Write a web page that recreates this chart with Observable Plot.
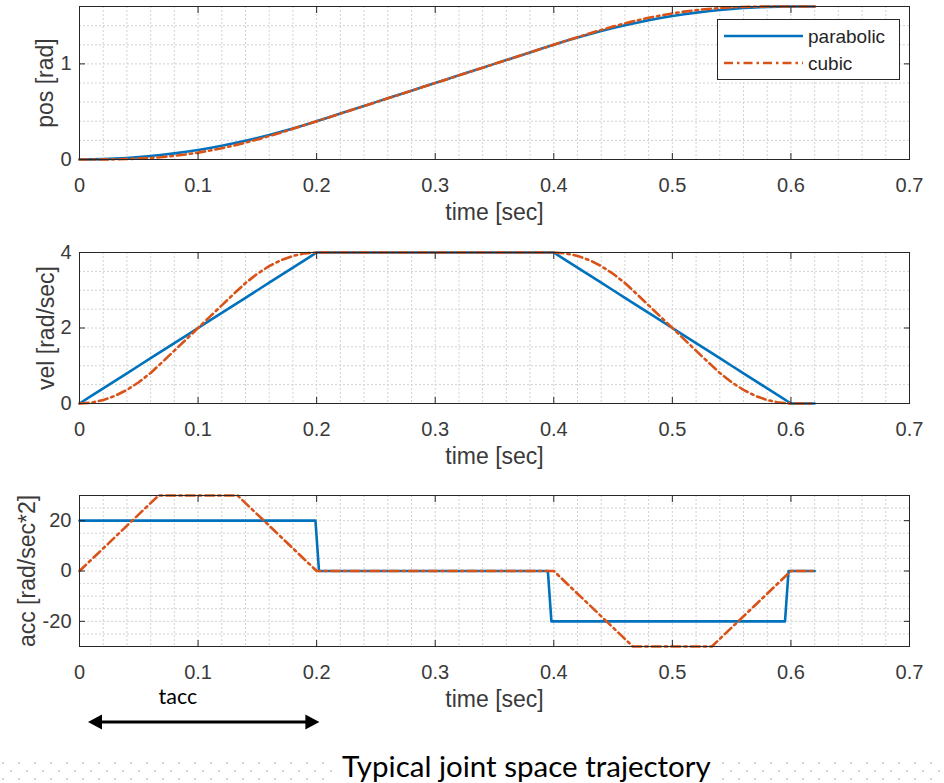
<!DOCTYPE html>
<html>
<head>
<meta charset="utf-8">
<script src="https://cdn.jsdelivr.net/npm/d3@7"></script>
<script src="https://cdn.jsdelivr.net/npm/@observablehq/plot@0.6"></script>
<style>
  body { margin: 0; background: #fff; }
  #wrap { position: relative; width: 944px; height: 783px; overflow: hidden; background: #fff; font-family: "Liberation Sans", Arial, sans-serif; }
  .panel { position: absolute; left: 0; }
  #dots { position: absolute; left: 0; top: 761px; width: 944px; height: 22px;
    background-image: radial-gradient(circle at 3px 2px, #d4d4d4 1px, transparent 1.6px),
                      radial-gradient(circle at 11px 10px, #d4d4d4 1px, transparent 1.6px);
    background-size: 16px 16px; }
  #title { position: absolute; left: 336px; top: 749px; padding: 0 6px; background: #fff;
    font-family: Lato, "Open Sans", sans-serif; font-size: 29.5px; line-height: 34px; color: #000; white-space: nowrap; }
  #legend { position: absolute; left: 717px; top: 19px; width: 181px; height: 59px; border: 1px solid #262626; background: #fff; }
</style>
</head>
<body>
<div id="wrap">
  <div id="p1" class="panel" style="top:0px"></div>
  <div id="p2" class="panel" style="top:230px"></div>
  <div id="p3" class="panel" style="top:475px"></div>
  <div id="legend"></div>
  <div id="dots"></div>
  <div id="title">Typical joint space trajectory</div>
</div>
<script>
// ---------------- data ----------------
const seriesNames = ["parabolic", "cubic"];

const time = [0,0.01,0.02,0.03,0.04,0.05,0.06,0.07,0.08,0.09,0.1,
  0.11,0.12,0.13,0.14,0.15,0.16,0.17,0.18,0.19,0.2,
  0.21,0.22,0.23,0.24,0.25,0.26,0.27,0.28,0.29,0.3,
  0.31,0.32,0.33,0.34,0.35,0.36,0.37,0.38,0.39,0.4,
  0.41,0.42,0.43,0.44,0.45,0.46,0.47,0.48,0.49,0.5,
  0.51,0.52,0.53,0.54,0.55,0.56,0.57,0.58,0.59,0.6,
  0.62];

const posParabolic = [0,0.001,0.004,0.009,0.016,0.025,0.036,0.049,0.064,0.081,0.1,
  0.121,0.144,0.169,0.196,0.225,0.256,0.289,0.324,0.361,0.4,
  0.44,0.48,0.52,0.56,0.6,0.64,0.68,0.72,0.76,0.8,
  0.84,0.88,0.92,0.96,1.0,1.04,1.08,1.12,1.16,1.2,
  1.239,1.276,1.311,1.344,1.375,1.404,1.431,1.456,1.479,1.5,
  1.519,1.536,1.551,1.564,1.575,1.584,1.591,1.596,1.599,1.6,
  1.6];

const posCubic = [0,0.0001,0.0006,0.002,0.0048,0.0094,0.0162,0.0257,0.0382,0.0537,0.0722,
  0.0937,0.1182,0.1457,0.1762,0.2094,0.2448,0.282,0.3206,0.3601,0.4,
  0.44,0.48,0.52,0.56,0.6,0.64,0.68,0.72,0.76,0.8,
  0.84,0.88,0.92,0.96,1.0,1.04,1.08,1.12,1.16,1.2,
  1.2399,1.2794,1.318,1.3552,1.3906,1.4238,1.4543,1.4818,1.5063,1.5278,
  1.5463,1.5618,1.5743,1.5838,1.5906,1.5952,1.598,1.5994,1.5999,1.6,
  1.6];

const velParabolic = [0,0.2,0.4,0.6,0.8,1,1.2,1.4,1.6,1.8,2,
  2.2,2.4,2.6,2.8,3,3.2,3.4,3.6,3.8,4,
  4,4,4,4,4,4,4,4,4,4,
  4,4,4,4,4,4,4,4,4,4,
  3.8,3.6,3.4,3.2,3,2.8,2.6,2.4,2.2,2,
  1.8,1.6,1.4,1.2,1,0.8,0.6,0.4,0.2,0,
  0];

const velCubic = [0,0.0225,0.09,0.2025,0.36,0.5625,0.81,1.1,1.4,1.7,2,
  2.3,2.6,2.9,3.19,3.4375,3.64,3.7975,3.91,3.9775,4,
  4,4,4,4,4,4,4,4,4,4,
  4,4,4,4,4,4,4,4,4,4,
  3.9775,3.91,3.7975,3.64,3.4375,3.19,2.9,2.6,2.3,2,
  1.7,1.4,1.1,0.81,0.5625,0.36,0.2025,0.09,0.0225,0,
  0];

const accParabolicTime = [0,0.199,0.202,0.395,0.398,0.595,0.598,0.62];
const accParabolic     = [20,20,0,0,-20,-20,0,0];
const accCubicTime     = [0,0.0667,0.1333,0.2,0.4,0.4667,0.5333,0.6,0.62];
const accCubic         = [0,30,30,0,0,-30,-30,0,0];

// ticks
const xTicks = [0,0.1,0.2,0.3,0.4,0.5,0.6,0.7];
const posTicks = [0,1];
const velTicks = [0,2,4];
const accTicks = [-20,0,20];

// annotation
const taccLabel = "tacc";
const taccArrow = [0.0076, 0.2027];
const taccLabelX = 0.083;

// ---------------- styling ----------------
const BLUE = "#0072BD", ORANGE = "#D95319";
const TXT = "#3a3a3a", AXC = "#262626", GRID = "#d2d2d2";
const FONT = "'Liberation Sans', Arial, sans-serif";
const DASH = "9,4,2.5,4";
const LW = 2.6;
const xMinor = d3.range(0, 0.7001, 0.02);

const toRows = (t, v) => t.map((d, i) => ({t: d, v: v[i]}));

function makePanel({height, marginTop, marginBottom, yDomain, yTicks, yMinorStep, yLabel, yLabelDx, blueRows, orangeRows, extra = []}) {
  const yMinor = d3.range(yDomain[0], yDomain[1] + yMinorStep * 0.01, yMinorStep);
  return Plot.plot({
    width: 944, height, marginLeft: 79, marginRight: 35, marginTop, marginBottom,
    x: {domain: [0, 0.7], label: null},
    y: {domain: yDomain, label: null},
    style: {fontFamily: FONT, fontSize: "20px", color: AXC, background: "none", overflow: "visible"},
    marks: [
      Plot.gridX(xMinor, {stroke: GRID, strokeOpacity: 1, strokeDasharray: "2,2"}),
      Plot.gridY(yMinor, {stroke: GRID, strokeOpacity: 1, strokeDasharray: "2,2"}),
      Plot.line(blueRows, {x: "t", y: "v", stroke: BLUE, strokeWidth: LW}),
      Plot.line(orangeRows, {x: "t", y: "v", stroke: ORANGE, strokeWidth: LW, strokeDasharray: DASH}),
      Plot.frame({stroke: AXC, strokeWidth: 1}),
      Plot.axisX(xTicks, {anchor: "bottom", tickSize: -6, fill: "none", stroke: AXC, label: null}),
      Plot.axisX(xTicks, {anchor: "top", tickSize: -6, fill: "none", stroke: AXC, label: null}),
      Plot.axisX(xTicks, {anchor: "bottom", tickSize: 0, tickPadding: 18, tickFormat: d => `${d}`, fill: TXT, label: null}),
      Plot.axisY(yTicks, {anchor: "left", tickSize: -6, fill: "none", stroke: AXC, label: null}),
      Plot.axisY(yTicks, {anchor: "right", tickSize: -6, fill: "none", stroke: AXC, label: null}),
      Plot.axisY(yTicks, {anchor: "left", tickSize: 0, tickPadding: 8, tickFormat: d => `${d}`, fill: TXT, label: null}),
      Plot.text(["time [sec]"], {text: d => d, frameAnchor: "bottom", dy: 53, lineAnchor: "middle", textAnchor: "middle", fontSize: 23, fill: TXT}),
      Plot.text([yLabel], {text: d => d, frameAnchor: "left", rotate: -90, dx: yLabelDx, lineAnchor: "middle", textAnchor: "middle", fontSize: 23, fill: TXT}),
      ...extra
    ]
  });
}

const p1 = makePanel({
  height: 230, marginTop: 6, marginBottom: 71,
  yDomain: [0, 1.6], yTicks: posTicks, yMinorStep: 0.2,
  yLabel: "pos [rad]", yLabelDx: -34,
  blueRows: toRows(time, posParabolic), orangeRows: toRows(time, posCubic)
});
document.getElementById("p1").appendChild(p1);

const p2 = makePanel({
  height: 245, marginTop: 22, marginBottom: 72,
  yDomain: [0, 4], yTicks: velTicks, yMinorStep: 0.5,
  yLabel: "vel [rad/sec]", yLabelDx: -33,
  blueRows: toRows(time, velParabolic), orangeRows: toRows(time, velCubic)
});
document.getElementById("p2").appendChild(p2);

const P3H = 260, P3MB = 89;
const p3 = makePanel({
  height: P3H, marginTop: 20, marginBottom: P3MB,
  yDomain: [-30, 30], yTicks: accTicks, yMinorStep: 5,
  yLabel: "acc [rad/sec*2]", yLabelDx: -52,
  blueRows: toRows(accParabolicTime, accParabolic), orangeRows: toRows(accCubicTime, accCubic),
  extra: [
    Plot.text([taccLabel], {text: d => d, x: taccLabelX, frameAnchor: "bottom", dy: 51, lineAnchor: "middle",
      fontFamily: "Lato, 'Open Sans', sans-serif", fontSize: 21.5, fill: "#000"})
  ]
});
document.getElementById("p3").appendChild(p3);

// double-headed arrow below the acc panel, placed with the panel's x scale
{
  const sx = p3.scale("x");
  const xa = sx.apply(taccArrow[0]), xb = sx.apply(taccArrow[1]);
  const y = (P3H - P3MB) + 76;
  const head = 14, half = 7.5;
  const g = d3.select(p3).append("g").attr("fill", "#000").attr("stroke", "none");
  g.append("line").attr("x1", xa + head - 2).attr("x2", xb - head + 2).attr("y1", y).attr("y2", y)
    .attr("stroke", "#000").attr("stroke-width", 3);
  g.append("polygon").attr("points", `${xa},${y} ${xa + head},${y - half} ${xa + head},${y + half}`);
  g.append("polygon").attr("points", `${xb},${y} ${xb - head},${y - half} ${xb - head},${y + half}`);
}

// legend
{
  const svg = d3.select("#legend").append("svg").attr("width", 181).attr("height", 59);
  const rows = [
    {name: seriesNames[0], color: BLUE, dash: null, y: 16},
    {name: seriesNames[1], color: ORANGE, dash: DASH, y: 43}
  ];
  for (const r of rows) {
    svg.append("line").attr("x1", 6).attr("x2", 85).attr("y1", r.y).attr("y2", r.y)
      .attr("stroke", r.color).attr("stroke-width", LW).attr("stroke-dasharray", r.dash);
    svg.append("text").attr("x", 90).attr("y", r.y).attr("dy", "0.35em")
      .attr("font-family", FONT).attr("font-size", 19).attr("fill", AXC).text(r.name);
  }
}
</script>
</body>
</html>
